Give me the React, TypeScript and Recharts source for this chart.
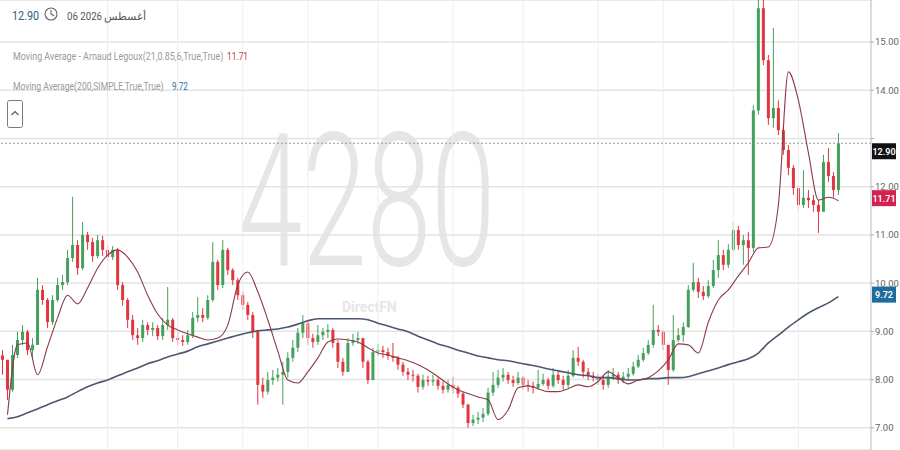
import React from "react";
import {
  ComposedChart,
  Bar,
  Line,
  XAxis,
  YAxis,
  CartesianGrid,
  ReferenceLine,
} from "recharts";

// Candles (open of each candle = previous close)
const FIRST_OPEN = 8.5;

const closes = [
  8.41, 7.79, 8.51, 8.82, 8.99, 8.61, 8.72, 9.86, 9.65, 9.19,
  9.65, 9.96, 10.02, 10.52, 10.79, 10.31, 11.0, 10.85, 10.56, 10.89,
  10.69, 10.54, 10.69, 9.96, 9.65, 9.24, 8.92, 8.86, 9.13, 9.03,
  9.07, 8.9, 9.13, 9.24, 8.86, 8.82, 8.78, 8.92, 9.28, 9.34,
  9.28, 9.65, 10.44, 9.96, 10.69, 10.27, 10.06, 9.75, 9.55, 9.34,
  8.99, 7.89, 7.75, 7.99, 8.04, 8.1, 8.16, 8.45, 8.66, 8.97,
  9.17, 8.86, 8.78, 8.92, 8.99, 9.03, 8.76, 8.37, 8.16, 8.76,
  8.82, 8.86, 8.37, 7.99, 8.57, 8.61, 8.57, 8.49, 8.45, 8.31,
  8.16, 8.1, 8.08, 7.85, 7.99, 7.96, 7.99, 7.87, 7.79, 7.89,
  7.83, 7.71, 7.48, 7.1, 7.17, 7.21, 7.29, 7.73, 7.89, 8.04,
  8.1, 7.99, 7.93, 8.04, 7.89, 7.87, 7.83, 7.91, 7.99, 7.87,
  8.1, 7.99, 7.89, 8.08, 8.45, 8.37, 8.16, 8.08, 8.04, 7.99,
  7.89, 8.06, 8.1, 7.99, 8.06, 8.12, 8.27, 8.41, 8.55, 8.72,
  9.03, 8.99, 8.72, 8.2, 8.82, 8.92, 9.09, 9.86, 10.02, 9.82,
  9.73, 9.94, 10.27, 10.58, 10.38, 10.69, 11.1, 10.79, 10.89, 10.73,
  13.58, 15.7, 14.62, 13.42, 13.63, 13.17, 12.76, 12.39, 11.97, 11.62,
  11.77, 11.72, 11.62, 11.48, 12.51, 12.22, 11.93, 12.9,
];

const highs = [
  8.61, 8.41, 8.72, 8.99, 9.13, 9.03, 8.86, 10.11, 9.96, 9.69,
  9.75, 10.11, 10.17, 10.69, 11.79, 10.89, 11.27, 11.06, 10.94, 11.0,
  10.98, 10.79, 10.77, 10.73, 10.02, 9.69, 9.34, 9.07, 9.24, 9.19,
  9.19, 9.13, 9.28, 9.92, 9.28, 8.99, 8.92, 9.03, 9.4, 9.71,
  9.48, 9.75, 10.85, 10.48, 10.89, 10.73, 10.31, 10.11, 9.82, 9.61,
  9.4, 9.03, 8.04, 8.16, 8.2, 8.24, 8.37, 8.57, 8.82, 9.07,
  9.34, 9.24, 8.95, 9.13, 9.07, 9.15, 9.07, 8.82, 8.45, 8.86,
  8.95, 8.99, 8.86, 8.41, 8.66, 8.74, 8.7, 8.66, 8.76, 8.49,
  8.37, 8.24, 8.2, 8.12, 8.1, 8.08, 8.1, 8.04, 7.96, 7.99,
  8.06, 7.87, 7.75, 7.5, 7.27, 7.33, 7.41, 7.83, 8.16, 8.2,
  8.24, 8.16, 8.08, 8.16, 8.08, 7.99, 7.96, 8.2, 8.12, 8.04,
  8.24, 8.16, 8.08, 8.2, 8.61, 8.68, 8.41, 8.24, 8.16, 8.12,
  8.08, 8.2, 8.24, 8.16, 8.16, 8.24, 8.37, 8.51, 8.66, 8.82,
  9.55, 9.13, 9.03, 8.72, 9.34, 9.07, 9.19, 9.96, 10.42, 10.11,
  9.94, 10.06, 10.48, 10.89, 10.69, 10.81, 11.27, 11.19, 11.0, 11.06,
  13.69, 15.87, 15.87, 14.73, 15.29, 13.79, 13.28, 12.86, 12.45, 12.04,
  12.34, 11.93, 11.83, 11.72, 12.66, 12.8, 12.3, 13.11,
];

const lows = [
  8.1, 7.58, 7.75, 8.45, 8.72, 8.51, 8.41, 8.72, 9.55, 9.07,
  9.13, 9.61, 9.86, 9.96, 10.44, 10.17, 10.27, 10.69, 10.44, 10.52,
  10.56, 10.44, 10.48, 9.86, 9.53, 9.07, 8.82, 8.72, 8.78, 8.92,
  8.9, 8.82, 8.82, 9.03, 8.78, 8.72, 8.7, 8.72, 8.86, 9.19,
  9.19, 9.24, 9.61, 9.86, 9.9, 10.17, 9.96, 9.65, 9.44, 9.24,
  8.86, 7.48, 7.62, 7.69, 7.89, 7.96, 7.48, 8.04, 8.37, 8.57,
  8.86, 8.72, 8.66, 8.72, 8.82, 8.86, 8.66, 8.24, 8.08, 8.16,
  8.7, 8.74, 8.24, 7.91, 7.99, 8.49, 8.45, 8.41, 8.37, 8.2,
  8.08, 7.99, 7.96, 7.73, 7.79, 7.87, 7.87, 7.79, 7.71, 7.73,
  7.71, 7.62, 7.41, 7.0, 7.04, 7.08, 7.12, 7.25, 7.66, 7.83,
  7.96, 7.91, 7.85, 7.89, 7.79, 7.75, 7.71, 7.79, 7.87, 7.79,
  7.83, 7.91, 7.79, 7.83, 8.04, 8.28, 8.04, 7.99, 7.96, 7.89,
  7.79, 7.83, 7.99, 7.91, 7.93, 7.99, 8.08, 8.24, 8.37, 8.51,
  8.66, 8.9, 8.61, 7.89, 8.16, 8.78, 8.78, 9.07, 9.82, 9.69,
  9.65, 9.69, 9.9, 10.11, 10.27, 10.31, 10.65, 10.69, 10.38, 10.17,
  10.65, 13.49, 14.52, 13.28, 13.22, 13.07, 12.66, 12.24, 11.83, 11.48,
  11.56, 11.56, 11.48, 11.04, 11.48, 12.1, 11.77, 11.83,
];

// moving averages, read every second candle (odd candle indexes)
const almaSeries = [
  7.27, 8.72, 8.76, 8.1, 8.68, 9.28, 9.75, 9.57, 9.9, 10.31,
  10.58, 10.69, 10.54, 10.23, 9.75, 9.36, 9.13, 9.03, 8.95, 8.88,
  8.82, 8.86, 9.13, 9.96, 10.23, 9.82, 9.24, 8.59, 7.99, 7.93,
  8.16, 8.45, 8.78, 8.84, 8.82, 8.78, 8.66, 8.55, 8.51, 8.45,
  8.39, 8.31, 8.2, 8.06, 7.91, 7.79, 7.71, 7.64, 7.58, 7.17,
  7.37, 7.83, 7.87, 7.81, 7.75, 7.75, 7.81, 7.89, 7.85, 7.96,
  8.16, 8.04, 7.91, 7.99, 8.04, 8.18, 8.41, 8.74, 8.72, 8.55,
  9.19, 9.65, 9.86, 10.15, 10.42, 10.73, 10.75, 11.62, 14.38, 13.79,
  12.7, 11.72, 11.78, 11.71,
];

const smaSeries = [
  7.19, 7.23, 7.31, 7.39, 7.48, 7.56, 7.64, 7.75, 7.85, 7.93,
  7.99, 8.08, 8.16, 8.24, 8.33, 8.39, 8.47, 8.53, 8.59, 8.68,
  8.74, 8.8, 8.86, 8.92, 8.97, 9.01, 9.03, 9.05, 9.09, 9.15,
  9.22, 9.26, 9.26, 9.26, 9.26, 9.26, 9.24, 9.17, 9.11, 9.05,
  8.99, 8.9, 8.82, 8.74, 8.68, 8.61, 8.55, 8.49, 8.45, 8.41,
  8.39, 8.35, 8.31, 8.27, 8.22, 8.18, 8.14, 8.1, 8.08, 8.04,
  8.04, 8.02, 7.99, 7.99, 8.02, 8.02, 8.04, 8.04, 8.06, 8.12,
  8.18, 8.24, 8.31, 8.37, 8.43, 8.55, 8.76, 8.92, 9.09, 9.24,
  9.38, 9.49, 9.59, 9.72,
];

const yTicks = [7, 8, 9, 10, 11, 12, 13, 14, 15];
const monthStarts = [21, 35, 48, 61, 75, 90, 104, 119, 132, 146, 159];
const EMPTY_SLOTS = 6;

const RED = "#e0363f";
const GREEN = "#45a05c";
const ALMA_COLOR = "#8c3a4c";
const SMA_COLOR = "#4c5770";

const rows: any[] = closes.map((c, i) => ({
  t: i,
  open: i === 0 ? FIRST_OPEN : closes[i - 1],
  close: c,
  high: highs[i],
  low: lows[i],
  alma: i % 2 === 1 ? almaSeries[(i - 1) / 2] : null,
  sma: i % 2 === 1 ? smaSeries[(i - 1) / 2] : null,
}));
for (let k = 0; k < EMPTY_SLOTS; k++) {
  rows.push({ t: closes.length + k, open: null, close: null, high: null, low: null, alma: null, sma: null });
}

const lastClose = closes[closes.length - 1];
const lastAlma = almaSeries[almaSeries.length - 1];
const lastSma = smaSeries[smaSeries.length - 1];

const Candle = (props: any) => {
  const { x, y, width, height, payload } = props;
  if (!payload || payload.high == null) return null;
  const { open, close, high, low } = payload;
  const top = Math.min(y, y + height);
  const bottom = Math.max(y, y + height);
  const range = high - low || 1e-6;
  const ratio = (bottom - top) / range;
  const yOf = (v: number) => top + (high - v) * ratio;
  const color = close >= open ? GREEN : RED;
  const bTop = yOf(Math.max(open, close));
  const bBot = yOf(Math.min(open, close));
  const cx = x + width / 2;
  return (
    <g>
      <line x1={cx} x2={cx} y1={top} y2={bottom} stroke={color} strokeWidth={1} />
      <rect x={x} y={bTop} width={width} height={Math.max(1, bBot - bTop)} fill={color} />
    </g>
  );
};

// the 13.00 label sits under the last-price tag in the original
const AxisTick = (props: any) => {
  const { x, y, payload } = props;
  if (Math.abs(payload.value - lastClose) < 0.2) return <g />;
  return (
    <text x={x} y={y} dy={3.5} textAnchor="start" fontSize={9.5} fill="#666" fontFamily="Roboto">
      {payload.value.toFixed(2)}
    </text>
  );
};

const PriceTag = (props: any) => {
  const { viewBox, text, bg, dy } = props;
  if (!viewBox) return null;
  const x = viewBox.x + viewBox.width + 1;
  const cy = viewBox.y + dy;
  return (
    <g>
      <rect x={x} y={cy - 8} width={24} height={16} fill={bg} />
      <text x={x + 12} y={cy + 3.5} textAnchor="middle" fontSize={9} fill="#fff" fontFamily="Roboto" fontWeight={600}>
        {text}
      </text>
    </g>
  );
};

export default function App() {
  return (
    <div style={{ position: "absolute", left: 0, top: 0, width: 900, height: 450, background: "#fff", overflow: "hidden" }}>
      {/* watermark */}
      <svg width={900} height={450} style={{ position: "absolute", left: 0, top: 0 }}>
        <text transform="translate(238,265) scale(1,1.6)" fontSize={116} fontFamily="Roboto" fontWeight={300} fill="#e6e6e6">
          4280
        </text>
        <text transform="translate(342,312) scale(0.93,1)" fontSize={15} fontFamily="Roboto" fontWeight={700} fill="#e6e6e6">
          DirectFN
        </text>
      </svg>

      <div style={{ position: "absolute", left: 0, top: 0 }}>
        <ComposedChart width={900} height={450} data={rows} margin={{ top: 0, right: 0, bottom: 0, left: 0 }} barCategoryGap={1}>
          <CartesianGrid vertical={false} stroke="#e3e3e3" strokeWidth={1.5} />
          {monthStarts.map((m) => (
            <ReferenceLine key={m} x={m} stroke="#eeeeee" strokeWidth={1} />
          ))}
          <XAxis dataKey="t" type="category" hide height={0} />
          <YAxis
            orientation="right"
            width={29}
            domain={[6.54, 15.87]}
            allowDataOverflow
            ticks={yTicks}
            interval={0}
            tick={<AxisTick />}
            tickSize={3}
            tickMargin={1}
            axisLine={{ stroke: "#b8b8b8" }}
            tickLine={{ stroke: "#aaa" }}
          />
          <ReferenceLine y={lastClose} stroke="#9a9a9a" strokeDasharray="2 2" />
          <Bar
            dataKey={(d: any) => (d.high == null ? null : [d.low, d.high])}
            barSize={3}
            shape={<Candle />}
            isAnimationActive={false}
          />
          <Line type="monotone" dataKey="sma" stroke={SMA_COLOR} strokeWidth={1.6} dot={false} connectNulls isAnimationActive={false} />
          <Line type="monotone" dataKey="alma" stroke={ALMA_COLOR} strokeWidth={1.1} dot={false} connectNulls isAnimationActive={false} />
          <ReferenceLine y={lastClose} stroke="none" label={<PriceTag text={lastClose.toFixed(2)} bg="#111111" dy={8} />} />
          <ReferenceLine y={lastAlma} stroke="none" label={<PriceTag text={lastAlma.toFixed(2)} bg="#d4224f" dy={-2.5} />} />
          <ReferenceLine y={lastSma} stroke="none" label={<PriceTag text={lastSma.toFixed(2)} bg="#1f6d9e" dy={-2} />} />
        </ComposedChart>
      </div>

      {/* header */}
      <svg width={900} height={140} style={{ position: "absolute", left: 0, top: 0, pointerEvents: "none" }}>
        <text transform="translate(12,20) scale(0.9,1)" fontSize={12} fontFamily="Roboto" fill="#2f5f7f">
          {lastClose.toFixed(2)}
        </text>
        <circle cx={51} cy={14} r={6} fill="none" stroke="#666" strokeWidth={1.1} />
        <polyline points="51,10 51,14 54,16" fill="none" stroke="#666" strokeWidth={1.1} />
        <text transform="translate(67,20) scale(0.88,1)" fontSize={11} fontFamily="Roboto" fill="#555">
          06 2026
        </text>
        <text x={104} y={20} fontSize={10.5} fontFamily="Noto Sans" fill="#555" textAnchor="start">
          أغسطس
        </text>
        <text transform="translate(13,60) scale(0.89,1)" fontSize={10} fontFamily="Roboto" fill="#9a9a9a">
          Moving Average - Arnaud Legoux(21,0.85,6,True,True)
        </text>
        <text transform="translate(227,60) scale(0.84,1)" fontSize={10} fontFamily="Roboto" fill="#c23b4e">
          {lastAlma.toFixed(2)}
        </text>
        <text transform="translate(13,90) scale(0.86,1)" fontSize={10} fontFamily="Roboto" fill="#9a9a9a">
          Moving Average(200,SIMPLE,True,True)
        </text>
        <text transform="translate(172,90) scale(0.82,1)" fontSize={10} fontFamily="Roboto" fill="#3572a0">
          {lastSma.toFixed(2)}
        </text>
        <rect x={7.5} y={100.5} width={15} height={27} rx={2} fill="#fff" stroke="#7a7a7a" />
        <polyline points="11.5,115 15,111.5 18.5,115" fill="none" stroke="#555" strokeWidth={1.1} />
      </svg>
    </div>
  );
}
